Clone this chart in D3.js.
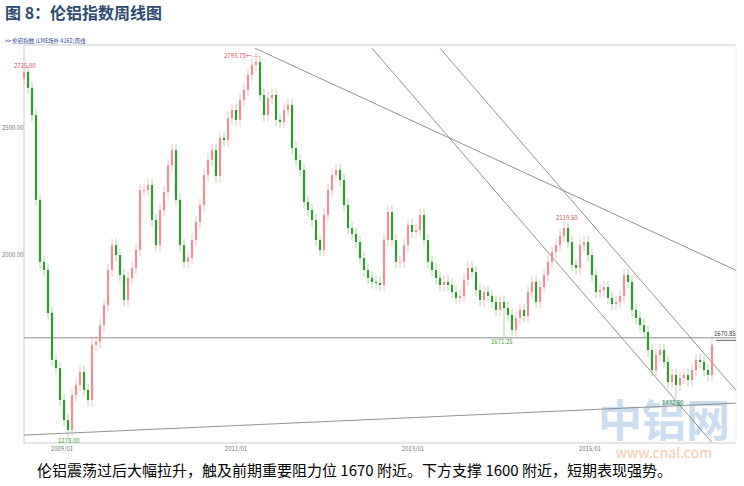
<!DOCTYPE html>
<html><head><meta charset="utf-8">
<script src="https://cdn.jsdelivr.net/npm/d3@7"></script>
<style>body{margin:0;background:#fff;font-family:"Noto Sans CJK SC","Noto Sans",sans-serif}</style>
</head><body><svg id="c" width="744" height="486"></svg>
<script>
// bi-weekly closes (LME aluminium index)
const closes = [2717,2654,2547,2213,1969,1937,1768,1583,1551,1425,1346,1307,1445,1484,1535,1465,1425,1642,1654,1720,1799,1937,2035,1996,1917,1819,1906,1945,2016,2252,2252,2272,2134,2035,2173,2244,2350,2409,2213,2035,1969,1984,2055,2126,2193,2311,2370,2409,2307,2457,2449,2535,2567,2528,2606,2646,2705,2744,2756,2626,2547,2614,2626,2528,2520,2567,2587,2417,2370,2331,2205,2173,2134,2055,2016,2154,2252,2311,2331,2291,2193,2102,2079,2047,1984,1937,1906,1890,1886,1878,2055,2165,2055,1969,1969,2035,2114,2087,2094,2154,2055,1969,1937,1906,1878,1890,1878,1850,1827,1835,1898,1945,1929,1858,1819,1850,1835,1811,1780,1811,1787,1760,1701,1748,1780,1756,1850,1890,1811,1870,1917,1969,2008,2035,2071,2102,2047,1957,1945,2035,2047,1996,1917,1850,1858,1870,1827,1803,1811,1835,1917,1890,1780,1748,1720,1693,1622,1543,1602,1622,1575,1496,1524,1484,1512,1524,1504,1543,1583,1575,1543,1524,1642];
const firstOpen = 2690;
const extremes = [{i:0,high:2715},{i:11,low:1278},{i:58,high:2793.75},{i:120,low:1671.25},{i:136,high:2119.5},{i:163,low:1432.5},{i:172,high:1670.85}];
const yTicks = [2500, 2000];
const xTickIdx = [9.5, 53, 97.25, 141.5];
const xTickLabels = ["2009/01","2011/01","2013/01","2015/01"];
const resistance = 1670;
// trend lines: [idx0, price0, idx1, price1]
const trendLines = [
  [0,1287,178,1413],
  [57.75,2810,178,1936],
  [87,2810,172,1258],
  [104,2810,178,1463]
];
const annotations = [
  {t:"2715.00",i:0,p:2715,dx:-10,dy:-4,c:"#e0484f"},
  {t:"2793.75←----",i:58,p:2793.75,dx:-32,dy:6,c:"#e0484f"},
  {t:"1278.00",i:11,p:1278,dx:-10,dy:6,c:"#3aa03a"},
  {t:"1671.25",i:120,p:1671.25,dx:-13,dy:6,c:"#3aa03a"},
  {t:"2119.50",i:136,p:2119.5,dx:-12,dy:-4,c:"#e0484f"},
  {t:"1432.50",i:163,p:1432.5,dx:-14,dy:7,c:"#3aa03a"},
  {t:"1670.85",i:172,p:1670.85,dx:2,dy:-2,c:"#333"}
];

const svg = d3.select("#c");
const x = d3.scaleLinear().domain([0, closes.length-1]).range([24, 712]);
const y = d3.scaleLinear().domain([2000, 1500]).range([254, 381]);
const L=24,R=736,T=45,B=443;

svg.append("text").attr("x",5).attr("y",19).attr("font-size",16).attr("font-weight","bold").attr("fill","#2d4b6e").text("图 8：伦铝指数周线图");
svg.append("text").attr("x",5).attr("y",43).attr("font-size",5.5).attr("fill","#2b3f9a").text(">> 伦铝指数 (LME场外 4162)周线");

// watermark
svg.append("text").attr("x",664).attr("y",437).attr("text-anchor","middle").attr("font-size",44).attr("font-weight","bold").attr("fill","#c4d8ee").attr("opacity",0.85).text("中铝网");
svg.append("text").attr("x",664).attr("y",458).attr("text-anchor","middle").attr("font-size",14).attr("fill","#f6c9a9").text("www.cnal.com");

const g = svg.append("g");
g.append("line").attr("x1",L).attr("x2",R).attr("y1",T).attr("y2",T).attr("stroke","#ccc");
g.append("line").attr("x1",L).attr("x2",R).attr("y1",B).attr("y2",B).attr("stroke","#ccc");
g.append("line").attr("x1",L).attr("x2",L).attr("y1",T).attr("y2",B).attr("stroke","#ccc");
g.append("line").attr("x1",R).attr("x2",R).attr("y1",T).attr("y2",B).attr("stroke","#eee");
yTicks.forEach(v=>g.append("text").attr("x",2).attr("y",y(v)+3).attr("font-size",6).attr("fill","#777").text(d3.format(".2f")(v)));
xTickIdx.forEach((v,k)=>g.append("text").attr("x",x(v)).attr("y",451).attr("text-anchor","middle").attr("font-size",6).attr("fill","#777").text(xTickLabels[k]));

g.append("line").attr("x1",L).attr("x2",R).attr("y1",y(resistance)).attr("y2",y(resistance)).attr("stroke","#888");
g.append("line").attr("x1",716).attr("x2",736).attr("y1",y(1660)).attr("y2",y(1660)).attr("stroke","#666");

svg.append("clipPath").attr("id","cp").append("rect").attr("x",L).attr("y",T).attr("width",R-L).attr("height",B-T);
g.append("g").attr("clip-path","url(#cp)").selectAll("line.t").data(trendLines).join("line")
 .attr("x1",d=>x(d[0])).attr("y1",d=>y(d[1])).attr("x2",d=>x(d[2])).attr("y2",d=>y(d[3])).attr("stroke","#777").attr("stroke-width",0.8);

const candles = closes.map((c,i)=>{
  const o = i? closes[i-1] : firstOpen;
  let hi = Math.max(o,c)+25, lo = Math.min(o,c)-25;
  const e = extremes.find(e=>e.i===i);
  if(e&&e.high) hi=e.high; if(e&&e.low) lo=e.low;
  return {i,o,c,hi,lo};
});
const cg = g.append("g");
cg.selectAll("line.w").data(candles).join("line")
 .attr("x1",d=>x(d.i)).attr("x2",d=>x(d.i)).attr("y1",d=>y(d.hi)).attr("y2",d=>y(d.lo))
 .attr("stroke",d=>d.c>=d.o?"#f3b0b4":"#9ccb8f").attr("stroke-width",0.8);
cg.selectAll("rect").data(candles).join("rect")
 .attr("x",d=>x(d.i)-1.1).attr("width",2.2)
 .attr("y",d=>y(Math.max(d.o,d.c))).attr("height",d=>Math.max(1,Math.abs(y(d.o)-y(d.c))))
 .attr("fill",d=>d.c>=d.o?"#ee8f95":"#2f9a2f");

annotations.forEach(a=>g.append("text").attr("x",x(a.i)+a.dx).attr("y",y(a.p)+a.dy).attr("font-size",6).attr("fill",a.c).text(a.t));

svg.append("text").attr("x",37).attr("y",476).attr("font-size",15).attr("fill","#000").text("伦铝震荡过后大幅拉升，触及前期重要阻力位 1670 附近。下方支撑 1600 附近，短期表现强势。");
</script></body></html>
